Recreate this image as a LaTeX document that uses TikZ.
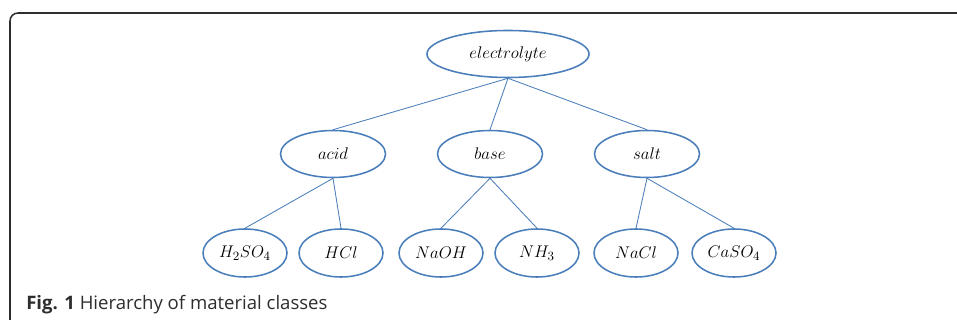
\documentclass[tikz,border=0pt]{standalone}
\usepackage{amsmath}
\usepackage{fontspec}
\newfontfamily\capfont{Open Sans}
\usepackage{tikz}
\usetikzlibrary{shapes.geometric}
\definecolor{nodeblue}{RGB}{74,126,187}
\definecolor{framegray}{RGB}{45,45,45}

\begin{document}
\begin{tikzpicture}[x = 0.025cm, y = -0.025cm,
                        rootnode/.style = {ellipse, draw = nodeblue, line width = 1.1pt, inner sep = 0pt,
                                           minimum width = 4.05cm, minimum height = 1.175cm},
                        classnode/.style = {ellipse, draw = nodeblue, line width = 1.1pt, inner sep = 0pt,
                                            minimum width = 2.625cm, minimum height = 1.175cm},
                        leafnode/.style = {ellipse, draw = nodeblue, line width = 1.1pt, inner sep = 0pt,
                                           minimum width = 2.1cm, minimum height = 1.2cm},
                        link/.style = {draw = nodeblue, line width = 0.6pt}]
      \useasboundingbox (0, 0) rectangle (957, 320);
      \draw [framegray, line width = 1.1pt, rounded corners = 0.2cm] (10, 320) -- (10, 13) -- (957, 13);
      \begin{scope}[font = \fontsize{12.8}{15}\selectfont]
      % top level
      \node [rootnode] (elec) at (508, 54){$electrolyte$};
      % classes
      \node [classnode] (acid) at (333, 154){$acid$};
      \node [classnode] (base) at (490, 154){$base$};
      \node [classnode] (salt) at (647, 154){$salt$};
      % members
      \node [leafnode] (hso) at (245, 253){$H_2SO_4$};
      \node [leafnode] (hcl) at (341, 253){$HCl$};
      \node [leafnode] (naoh) at (441, 253){$NaOH$};
      \node [leafnode] (nh) at (537, 253){$NH_3$};
      \node [leafnode] (nacl) at (636, 253){$NaCl$};
      \node [leafnode] (caso) at (734, 253){$CaSO_4$};
      \end{scope}
      \draw [link] (elec.south) -- (acid.north);
      \draw [link] (elec.south) -- (base.north);
      \draw [link] (elec.south) -- (salt.north);
      \draw [link] (acid.south) -- (hso.north);
      \draw [link] (acid.south) -- (hcl.north);
      \draw [link] (base.south) -- (naoh.north);
      \draw [link] (base.south) -- (nh.north);
      \draw [link] (salt.south) -- (nacl.north);
      \draw [link] (salt.south) -- (caso.north);
      \node [anchor = base west, inner sep = 0pt, text = framegray, font = \capfont\fontsize{13.2}{15}\selectfont] (caption) at (26, 309)
            {\textbf{Fig. 1} Hierarchy of material classes};
    \end{tikzpicture}
\end{document}
